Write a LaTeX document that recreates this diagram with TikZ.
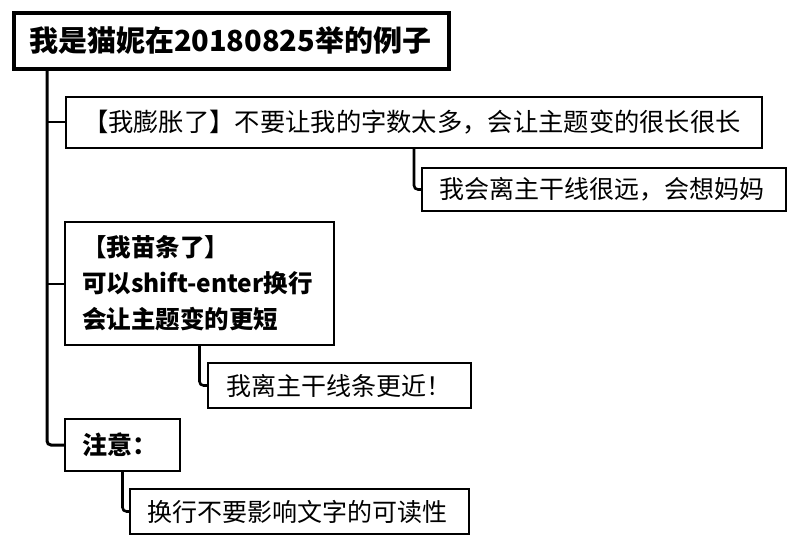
\documentclass[tikz,border=0pt]{standalone}
\usepackage{fontspec}
\setmainfont{Noto Sans CJK SC}
\usetikzlibrary{positioning}
\tikzset{
  box/.style={draw=black, line width=1.6pt, rectangle, inner ysep=0pt, align=left,
    font=\fontsize{25}{36}\selectfont},
  rootbox/.style={draw=black, line width=4pt, rectangle, inner ysep=0pt, inner xsep=15pt, align=left,
    font=\fontsize{29}{34}\selectfont\bfseries},
  conn/.style={line width=2.6pt, rounded corners=4pt},
  branch/.style={line width=2pt},
}
\begin{document}
\begin{tikzpicture}[x=1pt,y=-1pt]
\useasboundingbox (0,0) rectangle (800,548);
\node[rootbox, minimum width=435pt, minimum height=56pt, text width=405pt] (root) at (231.5,41) {我是猫妮在20180825举的例子};
\node[box, minimum width=696pt, minimum height=51pt, inner xsep=17pt, text width=662pt, font=\fontsize{25.3}{36}\selectfont] (b1) at (414,122.5) {【我膨胀了】不要让我的字数太多，会让主题变的很长很长};
\node[box, minimum width=364pt, minimum height=43pt, inner xsep=17pt, text width=330pt] (b2) at (604,189.5) {我会离主干线很远，会想妈妈};
\node[box, minimum width=269pt, minimum height=123pt, inner xsep=17pt, text width=235pt, font=\fontsize{24.5}{36}\selectfont\bfseries] (b3) at (199.5,283.5) {\mbox{【我苗条了】}\\\mbox{可以shift-enter换行}\\\mbox{会让主题变的更短}};
\node[box, minimum width=263pt, minimum height=45pt, inner xsep=18pt, text width=227pt] (b4) at (339.5,385.5) {我离主干线条更近！};
\node[box, minimum width=115pt, minimum height=52pt, inner xsep=17pt, text width=81pt, font=\fontsize{25}{36}\selectfont\bfseries] (b5) at (122.5,445) {注意：};
\node[box, minimum width=339pt, minimum height=45pt, inner xsep=17pt, text width=305pt] (b6) at (299.5,511.5) {换行不要影响文字的可读性};
\coordinate (trunk) at (47,69);
\draw[conn, line width=3pt] (trunk) |- (b5.west);
\draw[branch] (trunk |- b1.west) -- (b1.west);
\draw[branch] (trunk |- b3.west) -- (b3.west);
\draw[conn] (b1.south) |- (b2.west);
\draw[conn] (b3.south) |- (b4.west);
\draw[conn] (b5.south) |- (b6.west);
\end{tikzpicture}
\end{document}
